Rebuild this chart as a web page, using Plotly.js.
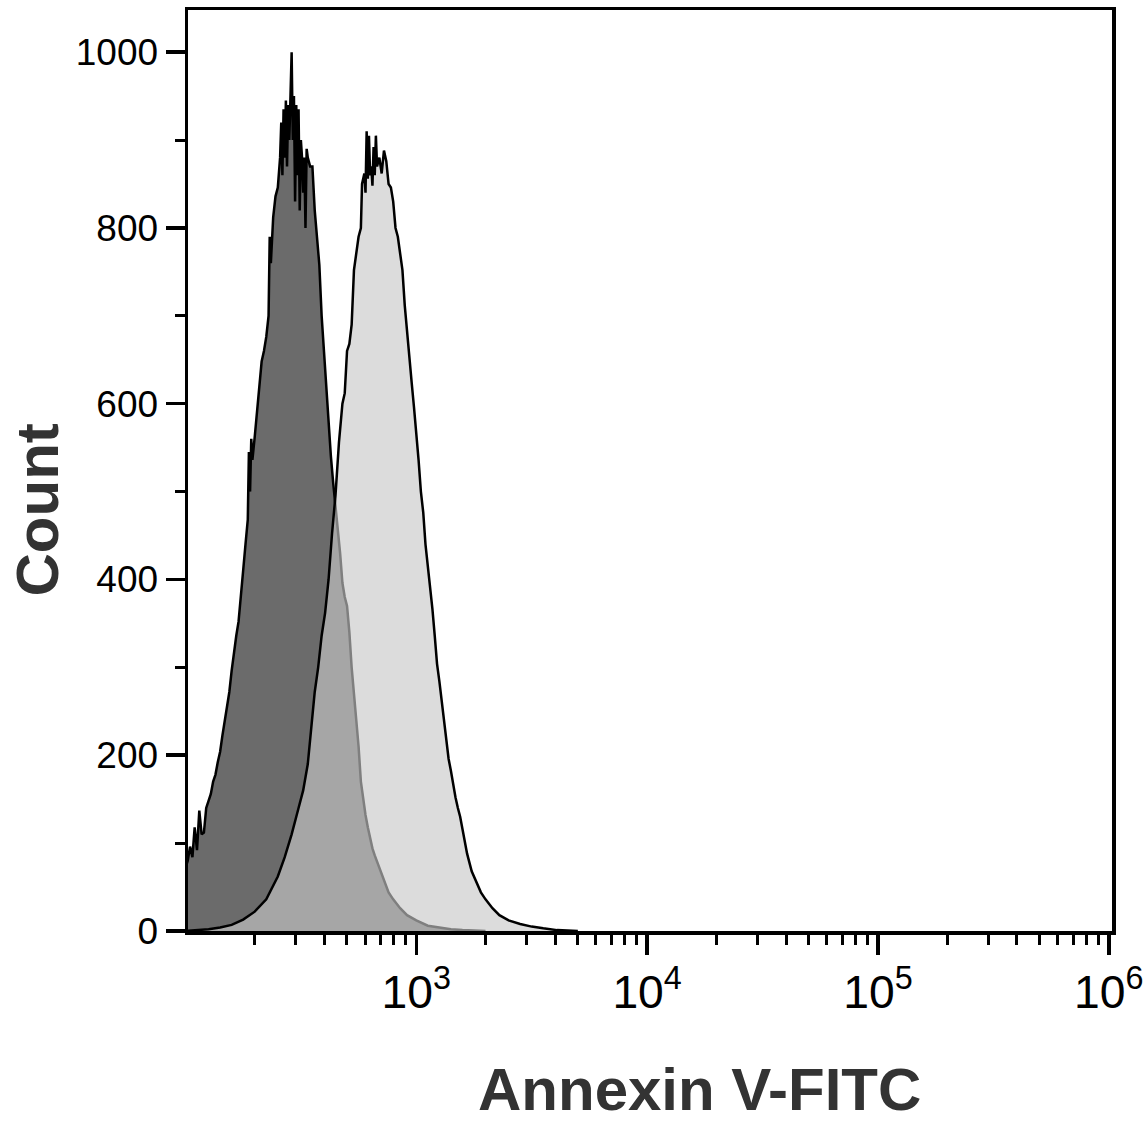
<!DOCTYPE html>
<html>
<head>
<meta charset="utf-8">
<script src="https://cdn.plot.ly/plotly-3.0.1.min.js"></script>
<style>html,body{margin:0;padding:0;background:#fff;}#chart{width:1146px;height:1122px;}</style>
</head>
<body>
<div id="chart"></div>
<script>
// Control histogram (dark gray): fluorescence intensity and event counts
const controlIntensity = [100.0,102.3,104.7,107.2,109.6,112.2,114.8,117.5,120.2,123.0,125.9,128.8,131.8,134.9,138.0,141.3,144.5,147.9,151.4,154.9,158.5,162.2,166.0,169.8,173.8,177.8,182.0,186.2,188.3,190.5,192.8,195.0,199.5,204.2,208.9,213.8,218.8,223.9,229.1,231.7,234.4,239.9,245.5,251.2,257.0,260.0,263.0,266.1,269.2,272.3,275.4,278.6,281.8,285.1,288.4,291.7,295.1,298.5,302.0,305.5,309.0,312.6,316.2,319.9,323.6,327.3,331.1,335.0,338.8,346.7,354.8,363.1,371.5,380.2,389.0,398.1,407.4,416.9,426.6,436.5,446.7,457.1,467.7,478.6,489.8,501.2,512.9,524.8,537.0,549.5,562.3,575.4,588.8,602.6,616.6,631.0,645.7,660.7,691.8,724.4,758.6,794.3,851.1,912.0,1000,1122,1259,1413,1585,1995];
const controlCount = [72,80,96,84,118,92,137,110,112,140,148,156,170,178,192,204,222,238,258,272,296,318,336,352,378,410,440,468,545,500,560,536,562,590,622,648,660,676,700,790,760,812,836,846,880,920,860,935,880,945,870,940,900,945,1000,900,950,830,940,860,935,820,900,880,840,880,800,890,880,870,870,820,790,758,700,660,612,580,540,510,485,462,430,396,380,370,340,300,272,240,210,170,148,132,118,104,94,86,72,56,44,36,26,18,12,6,4,2,1,0];

// Annexin V-FITC stained histogram (light gray)
const stainedIntensity = [100,112.2,125.9,141.3,158.5,177.8,199.5,223.9,251.2,269.2,288.4,309.0,323.6,338.8,350.8,363.1,375.8,389.0,402.7,416.9,431.5,446.7,462.4,478.6,489.8,501.2,512.9,524.8,537.0,549.5,562.3,575.4,582.1,595.7,602.6,609.5,616.6,623.7,631.0,638.3,645.7,653.1,660.7,668.3,676.1,691.8,707.9,724.4,741.3,758.6,776.2,794.3,812.8,831.8,851.1,871.0,891.3,912.0,933.3,955.0,977.2,1000,1023,1047,1072,1096,1122,1148,1175,1202,1230,1259,1288,1318,1349,1380,1413,1445,1479,1514,1549,1585,1660,1738,1820,1905,1995,2138,2291,2512,2818,3162,3548,4074,5012];
const stainedCount = [0,1,2,4,7,13,22,36,62,84,110,140,160,190,230,272,300,336,362,400,452,496,556,600,612,660,668,690,752,770,790,800,850,862,840,910,856,905,860,870,848,892,860,905,870,880,862,888,876,850,846,830,800,790,770,752,712,680,648,624,596,568,536,500,476,440,414,396,366,336,304,284,262,236,214,196,182,166,152,140,130,116,88,68,56,44,36,26,18,12,8,5,3,1,0];

const xTitle = "Annexin V-FITC";
const yTitle = "Count";

const traces = [
  {
    x: controlIntensity, y: controlCount, type: 'scatter', mode: 'lines',
    fill: 'tozeroy', fillcolor: 'rgb(107,107,107)',
    line: {color: '#000', width: 2.5}, hoverinfo: 'skip'
  },
  {
    x: stainedIntensity, y: stainedCount, type: 'scatter', mode: 'lines',
    fill: 'tozeroy', fillcolor: 'rgba(200,200,200,0.635)',
    line: {color: '#000', width: 2.5}, hoverinfo: 'skip'
  }
];

const tickFont = {family: 'Liberation Sans, Arial, sans-serif', size: 37, color: '#000'};
const titleFont = {family: 'Liberation Sans, Arial, sans-serif', size: 60, color: '#333'};

const layout = {
  width: 1146, height: 1122,
  margin: {l: 188, r: 34, t: 10, b: 191},
  paper_bgcolor: '#fff', plot_bgcolor: '#fff',
  showlegend: false,
  xaxis: {
    type: 'log', range: [2.011, 6.014],
    dtick: 1, exponentformat: 'power', showexponent: 'all',
    ticks: 'outside', ticklen: 20, tickwidth: 3.5, tickcolor: '#000',
    minor: {dtick: 'D1', ticks: 'outside', ticklen: 10, tickwidth: 3, tickcolor: '#000', showgrid: false},
    showline: true, linewidth: 3.5, linecolor: '#000', mirror: true,
    showgrid: false, zeroline: false, tickfont: tickFont
  },
  yaxis: {
    range: [0, 1048], dtick: 200, tick0: 0,
    ticks: 'outside', ticklen: 19, tickwidth: 3.5, tickcolor: '#000',
    minor: {dtick: 100, ticks: 'outside', ticklen: 10, tickwidth: 3, tickcolor: '#000', showgrid: false},
    showline: true, linewidth: 3.5, linecolor: '#000', mirror: true,
    showgrid: false, zeroline: false, tickfont: tickFont
  },
  annotations: [
    {text: '<b>' + xTitle + '</b>', xref: 'paper', yref: 'paper', x: 0.554, y: -0.1726,
     xanchor: 'center', yanchor: 'middle', showarrow: false, font: titleFont},
    {text: '<b>' + yTitle + '</b>', xref: 'paper', yref: 'paper', x: -0.163, y: 0.457,
     xanchor: 'center', yanchor: 'middle', textangle: -90, showarrow: false, font: titleFont}
  ]
};

Plotly.newPlot('chart', traces, layout, {displayModeBar: false, staticPlot: true});
</script>
</body>
</html>
